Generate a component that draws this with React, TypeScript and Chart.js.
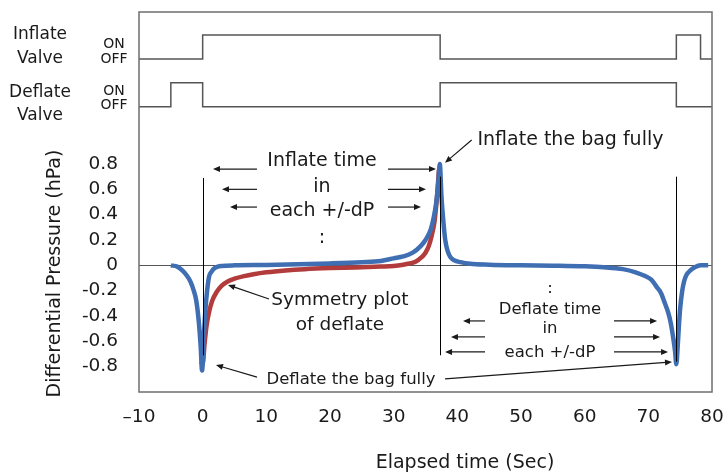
import React, { useEffect, useRef } from "react";
import { Chart, registerables } from "chart.js";

Chart.register(...registerables);

// ---------- data ----------
const xTickValues = [-10, 0, 10, 20, 30, 40, 50, 60, 70, 80];
const yTickValues = [-0.8, -0.6, -0.4, -0.2, 0, 0.2, 0.4, 0.6, 0.8];

// measured differential pressure (blue)
const blueX = [-5, -4, -3.2, -2.5, -1.9, -1.4, -1.0, -0.6, -0.3, -0.1, 0.1, 0.2, 0.4, 0.6, 1.0, 1.4, 1.8, 2.4, 3, 5, 10, 15, 20, 25, 28, 30, 31.5, 33, 34.2, 35, 35.8, 36.3, 36.7, 37, 37.25, 37.5, 37.8, 38.1, 38.5, 38.9, 39.5, 40.5, 42, 45, 50, 55, 60, 63, 66, 68, 69.5, 70.5, 71.3, 72, 72.6, 73.1, 73.5, 73.9, 74.2, 74.4, 74.6, 74.8, 75, 75.3, 75.6, 76, 76.6, 77.3, 78.2, 79.4];
const blueY = [0, -0.01, -0.04, -0.08, -0.13, -0.2, -0.28, -0.45, -0.65, -0.83, -0.68, -0.55, -0.38, -0.25, -0.09, -0.05, -0.025, -0.01, -0.005, 0, 0.003, 0.008, 0.015, 0.025, 0.035, 0.055, 0.07, 0.1, 0.15, 0.2, 0.28, 0.38, 0.5, 0.65, 0.8, 0.55, 0.35, 0.2, 0.11, 0.065, 0.04, 0.025, 0.012, 0.005, 0, -0.003, -0.008, -0.015, -0.03, -0.055, -0.085, -0.115, -0.17, -0.22, -0.3, -0.37, -0.45, -0.57, -0.68, -0.78, -0.65, -0.48, -0.34, -0.21, -0.13, -0.075, -0.04, -0.015, 0, 0];

// symmetry plot of deflate (red)
const redX = [-0.3, 0, 0.3, 0.6, 1.0, 1.5, 2.2, 3, 4, 5, 6.5, 8, 10, 13, 16, 20, 24, 28, 30, 31.5, 32.5, 33.5, 34.3, 35, 35.5, 36, 36.4, 36.7, 36.9, 37.1];
const redY = [-0.76, -0.78, -0.62, -0.48, -0.37, -0.28, -0.21, -0.16, -0.125, -0.105, -0.085, -0.07, -0.055, -0.04, -0.03, -0.022, -0.017, -0.01, -0.005, 0.005, 0.015, 0.03, 0.06, 0.1, 0.15, 0.24, 0.34, 0.48, 0.6, 0.75];

// valve timing (0 = OFF, 1 = ON)
const inflateValveT = [-10, 0, 37.3, 74.4, 78.2, 80];
const inflateValveState = [0, 1, 0, 1, 0, 0];
const deflateValveT = [-10, -5, 0, 37.3, 74.4, 80];
const deflateValveState = [0, 1, 0, 1, 0, 0];

// vertical event markers
const markerTimes = [0, 37.3, 74.4];
const markerTop = [0.69, 0.7, 0.7];
const markerBottom = [-0.71, -0.71, -0.76];

// annotation texts
const inflateNoteLines = ["Inflate time", "in", "each +/-dP", ":"];
const inflateNoteBaselines = [0.784, 0.579, 0.389, 0.176];
const inflateNoteX = 18.74;
const deflateNoteLines = [":", "Deflate time", "in", "each +/-dP"];
const deflateNoteBaselines = [-0.218, -0.384, -0.534, -0.724];
const deflateNoteX = 54.55;
const symmetryLines = ["Symmetry plot", "of deflate"];
const symmetryBaselines = [-0.313, -0.51];
const symmetryX = 21.57;
const inflateFullLabel = "Inflate the bag fully";
const inflateFullPos = [57.77, 0.95];
const deflateFullLabel = "Deflate the bag fully";
const deflateFullPos = [23.3, -0.937];

// arrows [x1, y1, x2, y2] (tail -> head)
const arrows = [
  [8.53, 0.76, 1.62, 0.76],
  [8.53, 0.6, 3.04, 0.6],
  [8.53, 0.46, 4.29, 0.46],
  [29.11, 0.76, 36.65, 0.76],
  [29.11, 0.6, 35.08, 0.6],
  [29.11, 0.46, 34.29, 0.46],
  [42.25, 0.99, 38.06, 0.81],
  [10.42, -0.266, 3.98, -0.155],
  [8.53, -0.882, 2.09, -0.787],
  [38.07, -0.897, 73.72, -0.763],
  [44.35, -0.439, 40.89, -0.439],
  [44.35, -0.565, 39.0, -0.565],
  [44.35, -0.684, 38.07, -0.684],
  [64.61, -0.439, 71.37, -0.439],
  [64.61, -0.565, 71.84, -0.565],
  [64.61, -0.684, 73.1, -0.684],
];

// ---------- styles ----------
const FONT = '"DejaVu Sans", Verdana, sans-serif';
const BLUE = "#3F6EB3";
const RED = "#B23B3B";
const INFLATE_LEVELS = [1.629, 1.818];
const DEFLATE_LEVELS = [1.252, 1.442];

function drawArrow(ctx: CanvasRenderingContext2D, x1: number, y1: number, x2: number, y2: number) {
  const ang = Math.atan2(y2 - y1, x2 - x1);
  const hl = 7;
  const hw = 3;
  ctx.beginPath();
  ctx.moveTo(x1, y1);
  ctx.lineTo(x2 - Math.cos(ang) * (hl - 1), y2 - Math.sin(ang) * (hl - 1));
  ctx.stroke();
  ctx.beginPath();
  ctx.moveTo(x2, y2);
  ctx.lineTo(x2 - Math.cos(ang) * hl + Math.sin(ang) * hw, y2 - Math.sin(ang) * hl - Math.cos(ang) * hw);
  ctx.lineTo(x2 - Math.cos(ang) * hl - Math.sin(ang) * hw, y2 - Math.sin(ang) * hl + Math.cos(ang) * hw);
  ctx.closePath();
  ctx.fill();
}

function text(ctx: CanvasRenderingContext2D, s: string, x: number, y: number, size: number, align: CanvasTextAlign = "center") {
  ctx.font = `${size}px ${FONT}`;
  ctx.textAlign = align;
  ctx.textBaseline = "alphabetic";
  ctx.fillText(s, x, y);
}

const overlay = {
  id: "overlay",
  beforeDatasetsDraw(chart: any) {
    const { ctx, chartArea, scales } = chart;
    const y0 = Math.round(scales.y.getPixelForValue(0)) + 0.5;
    ctx.save();
    ctx.strokeStyle = "#555";
    ctx.lineWidth = 1;
    ctx.beginPath();
    ctx.moveTo(chartArea.left, y0);
    ctx.lineTo(chartArea.right, y0);
    ctx.stroke();
    ctx.restore();
  },
  afterDatasetsDraw(chart: any) {
    const { ctx, scales } = chart;
    const { x, y } = scales;
    ctx.save();
    ctx.strokeStyle = "#000";
    ctx.lineWidth = 1;
    markerTimes.forEach((t, i) => {
      const px = Math.round(x.getPixelForValue(t)) + 0.5;
      ctx.beginPath();
      ctx.moveTo(px, y.getPixelForValue(markerTop[i]));
      ctx.lineTo(px, y.getPixelForValue(markerBottom[i]));
      ctx.stroke();
    });
    ctx.restore();
  },
  afterDraw(chart: any) {
    const { ctx, chartArea, scales } = chart;
    const { x, y } = scales;
    ctx.save();
    // frame
    ctx.strokeStyle = "#6e6e6e";
    ctx.lineWidth = 1.5;
    ctx.strokeRect(chartArea.left, chartArea.top, chartArea.right - chartArea.left, chartArea.bottom - chartArea.top);

    ctx.fillStyle = "#1a1a1a";
    // valve labels (left margin)
    text(ctx, "Inflate", 40, 39, 17);
    text(ctx, "Valve", 40, 62.5, 17);
    text(ctx, "Deflate", 40, 96.5, 17);
    text(ctx, "Valve", 40, 120, 17);
    text(ctx, "ON", 114, 47.5, 14);
    text(ctx, "OFF", 114, 62.5, 14);
    text(ctx, "ON", 114, 94.5, 14);
    text(ctx, "OFF", 114, 109, 14);

    // axis titles
    text(ctx, "Elapsed time (Sec)", 465, 468, 19);
    ctx.save();
    ctx.translate(60, 273.5);
    ctx.rotate(-Math.PI / 2);
    text(ctx, "Differential Pressure (hPa)", 0, 0, 19);
    ctx.restore();

    // annotations
    inflateNoteLines.forEach((s, i) => text(ctx, s, x.getPixelForValue(inflateNoteX), y.getPixelForValue(inflateNoteBaselines[i]), 19));
    deflateNoteLines.forEach((s, i) => text(ctx, s, x.getPixelForValue(deflateNoteX), y.getPixelForValue(deflateNoteBaselines[i]), 16.5));
    symmetryLines.forEach((s, i) => text(ctx, s, x.getPixelForValue(symmetryX), y.getPixelForValue(symmetryBaselines[i]), 18.5));
    text(ctx, inflateFullLabel, x.getPixelForValue(inflateFullPos[0]), y.getPixelForValue(inflateFullPos[1]), 19);
    text(ctx, deflateFullLabel, x.getPixelForValue(deflateFullPos[0]), y.getPixelForValue(deflateFullPos[1]), 16.5);

    ctx.strokeStyle = "#1a1a1a";
    ctx.lineWidth = 1.2;
    arrows.forEach(([x1, y1, x2, y2]) =>
      drawArrow(ctx, x.getPixelForValue(x1), y.getPixelForValue(y1), x.getPixelForValue(x2), y.getPixelForValue(y2))
    );
    ctx.restore();
  },
};

export default function App() {
  const ref = useRef<HTMLCanvasElement>(null);
  useEffect(() => {
    const canvas = ref.current;
    if (!canvas) return;
    const chart = new Chart(canvas, {
      type: "line",
      data: {
        datasets: [
          {
            label: "Measured",
            data: blueX.map((t, i) => ({ x: t, y: blueY[i] })),
            borderColor: BLUE,
            borderWidth: 4.5,
            pointRadius: 0,
            cubicInterpolationMode: "monotone",
            fill: false,
            order: 1,
          },
          {
            label: "Symmetry plot of deflate",
            data: redX.map((t, i) => ({ x: t, y: redY[i] })),
            borderColor: RED,
            borderWidth: 4.5,
            pointRadius: 0,
            cubicInterpolationMode: "monotone",
            fill: false,
            order: 2,
          },
          {
            label: "Inflate Valve",
            data: inflateValveT.map((t, i) => ({ x: t, y: INFLATE_LEVELS[inflateValveState[i]] })),
            borderColor: "#555",
            borderWidth: 1.5,
            pointRadius: 0,
            stepped: true,
            fill: false,
            order: 3,
          },
          {
            label: "Deflate Valve",
            data: deflateValveT.map((t, i) => ({ x: t, y: DEFLATE_LEVELS[deflateValveState[i]] })),
            borderColor: "#555",
            borderWidth: 1.5,
            pointRadius: 0,
            stepped: true,
            fill: false,
            order: 3,
          },
        ],
      },
      options: {
        animation: false,
        responsive: false,
        devicePixelRatio: 1,
        events: [],
        layout: { padding: { left: 0, right: 11, top: 12, bottom: 0 } },
        plugins: { legend: { display: false }, tooltip: { enabled: false } },
        scales: {
          x: {
            type: "linear",
            min: -10,
            max: 80,
            afterBuildTicks: (s: any) => {
              s.ticks = xTickValues.map((v) => ({ value: v }));
            },
            afterFit: (s: any) => {
              s.height = 81;
              s.paddingLeft = 0;
              s.paddingRight = 0;
            },
            grid: { display: false, drawTicks: false },
            border: { display: false },
            ticks: {
              padding: 14,
              maxRotation: 0,
              autoSkip: false,
              color: "#1a1a1a",
              font: { family: FONT, size: 18.5 },
              callback: (v: any) => (v < 0 ? "\u2013" + Math.abs(v) : String(v)),
            },
          },
          y: {
            type: "linear",
            min: -1,
            max: 2,
            afterBuildTicks: (s: any) => {
              s.ticks = yTickValues.map((v) => ({ value: v }));
            },
            afterFit: (s: any) => {
              s.width = 139;
              s.paddingTop = 0;
              s.paddingBottom = 0;
            },
            grid: { display: false, drawTicks: false },
            border: { display: false },
            ticks: {
              padding: 21,
              autoSkip: false,
              color: "#1a1a1a",
              font: { family: FONT, size: 18.5 },
              callback: (v: any) => (v === 0 ? "0" : Number(v).toFixed(1)),
            },
          },
        },
      } as any,
      plugins: [overlay],
    });
    return () => chart.destroy();
  }, []);
  return (
    <div style={{ position: "fixed", left: 0, top: 0, width: 723, height: 473, background: "#fff" }}>
      <canvas ref={ref} width={723} height={473} style={{ display: "block", width: 723, height: 473 }} />
    </div>
  );
}
